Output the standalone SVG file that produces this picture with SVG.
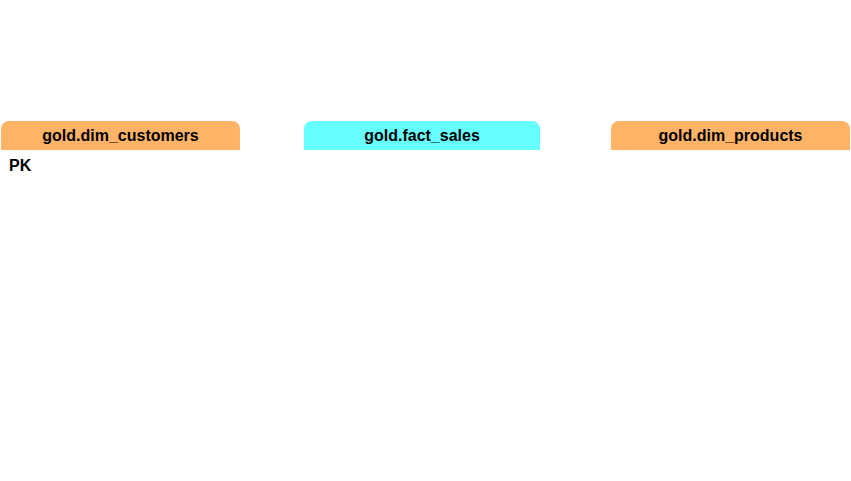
<svg xmlns="http://www.w3.org/2000/svg" width="851" height="481" viewBox="0 0 851 481">
<style>
.t{font-family:"Liberation Sans",Arial,sans-serif;font-size:16px;font-weight:bold;fill:#000}
.dim{fill:#FFB366}
.fact{fill:#66FFFF}
</style>
<rect width="851" height="481" fill="#fff"/>
<g id="dim_customers">
<path class="dim" d="M1,150 V129 a8,8 0 0 1 8,-8 H232 a8,8 0 0 1 8,8 V150 Z"/>
<text class="t" x="120.5" y="141" text-anchor="middle">gold.dim_customers</text>
<text class="t" x="9" y="171">PK</text>
</g>
<g id="fact_sales">
<path class="fact" d="M304,150 V129 a8,8 0 0 1 8,-8 H532 a8,8 0 0 1 8,8 V150 Z"/>
<text class="t" x="422" y="141" text-anchor="middle">gold.fact_sales</text>
</g>
<g id="dim_products">
<path class="dim" d="M611,150 V129 a8,8 0 0 1 8,-8 H842 a8,8 0 0 1 8,8 V150 Z"/>
<text class="t" x="730.5" y="141" text-anchor="middle">gold.dim_products</text>
</g>
<g id="connectors"></g>
</svg>
